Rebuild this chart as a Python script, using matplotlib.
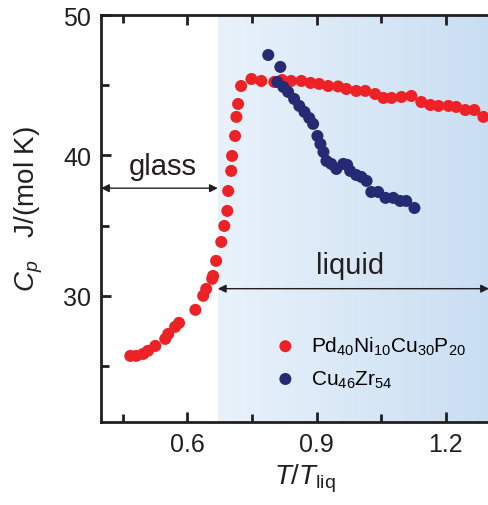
import numpy as np
import matplotlib
matplotlib.use("Agg")
import matplotlib.pyplot as plt
from matplotlib.colors import LinearSegmentedColormap

plt.rcParams['font.family'] = ['Liberation Sans', 'DejaVu Sans']
plt.rcParams['mathtext.fontset'] = 'custom'
plt.rcParams['mathtext.rm'] = 'Liberation Sans'
plt.rcParams['mathtext.it'] = 'Liberation Sans:italic'
plt.rcParams['mathtext.default'] = 'regular'

# Pd40Ni10Cu30P20
pd_x = [0.468, 0.482, 0.498, 0.509, 0.526, 0.549, 0.556, 0.572, 0.581, 0.619,
        0.637, 0.644, 0.658, 0.660, 0.667, 0.679, 0.686, 0.693, 0.695, 0.702,
        0.704, 0.711, 0.714, 0.718, 0.725, 0.749, 0.772, 0.802, 0.820, 0.841,
        0.865, 0.886, 0.906, 0.927, 0.950, 0.969, 0.992, 1.013, 1.036, 1.055,
        1.074, 1.097, 1.120, 1.143, 1.164, 1.183, 1.206, 1.224, 1.245, 1.266,
        1.287]
pd_y = [25.71, 25.71, 25.85, 26.07, 26.42, 26.92, 27.28, 27.78, 28.06, 28.99,
        29.99, 30.48, 31.20, 31.41, 32.48, 33.83, 34.97, 36.04, 37.46, 38.89,
        39.96, 41.38, 42.74, 43.66, 44.94, 45.44, 45.30, 45.23, 45.37, 45.30,
        45.30, 45.16, 45.09, 44.94, 44.91, 44.73, 44.59, 44.59, 44.37, 44.09,
        44.09, 44.16, 44.23, 43.80, 43.59, 43.52, 43.52, 43.45, 43.23, 43.23,
        42.74]

# Cu46Zr54
cz_x = [0.788, 0.816, 0.809, 0.823, 0.834, 0.848, 0.860, 0.872, 0.883, 0.892,
        0.902, 0.909, 0.916, 0.923, 0.934, 0.946, 0.962, 0.971, 0.978, 0.992,
        1.004, 1.016, 1.027, 1.043, 1.060, 1.078, 1.094, 1.108, 1.127]
cz_y = [47.15, 46.30, 45.23, 44.87, 44.52, 44.02, 43.52, 43.09, 42.66, 42.24,
        41.38, 40.81, 40.24, 39.60, 39.39, 39.03, 39.39, 39.32, 38.89, 38.60,
        38.46, 38.18, 37.39, 37.39, 36.97, 36.97, 36.75, 36.75, 36.25]

xticks = [0.6, 0.9, 1.2]
yticks = [30, 40, 50]
t_glass = 0.671
xmin, xmax, ymin, ymax = 0.4, 1.3, 21, 50

fig = plt.figure(figsize=(4.89, 5.06), dpi=100)
ax = fig.add_axes([101/489, 1-423/506, (489-101)/489, (423-16)/506])

cmap = LinearSegmentedColormap.from_list('bg', ['#e9f2fb', '#c9def2'])
grad = np.linspace(0, 1, 256).reshape(1, -1)
ax.imshow(grad, extent=[t_glass, xmax, ymin, ymax], aspect='auto', cmap=cmap,
          zorder=0, interpolation='bicubic')

ax.scatter(pd_x, pd_y, s=75, color='#ec2227', edgecolors='none', zorder=3,
           label=r'Pd$_{40}$Ni$_{10}$Cu$_{30}$P$_{20}$')
ax.scatter(cz_x, cz_y, s=75, color='#262a72', edgecolors='none', zorder=4,
           label=r'Cu$_{46}$Zr$_{54}$')

ax.set_xlim(xmin, xmax)
ax.set_ylim(ymin, ymax)

ax.annotate('', xy=(xmin, 37.66), xytext=(t_glass, 37.66),
            arrowprops=dict(arrowstyle='<|-|>', color='#231f20', lw=1.0,
                            mutation_scale=12, shrinkA=0, shrinkB=0))
ax.annotate('', xy=(t_glass, 30.5), xytext=(xmax, 30.5),
            arrowprops=dict(arrowstyle='<|-|>', color='#231f20', lw=1.0,
                            mutation_scale=12, shrinkA=0, shrinkB=0))
ax.text(0.544, 38.67, 'glass', fontsize=21, ha='center', va='baseline', color='#231f20')
ax.text(0.978, 31.62, 'liquid', fontsize=21, ha='center', va='baseline', color='#231f20')

leg = ax.legend(loc='upper left', bbox_to_anchor=(0.40, 0.235), frameon=False,
                fontsize=15, handletextpad=0.25, labelspacing=0.55,
                markerscale=1.0, borderaxespad=0)

ax.set_xticks(xticks)
ax.set_yticks(yticks)
ax.set_xticks([0.45, 0.75, 1.05], minor=True)
ax.set_yticks([25, 35, 45], minor=True)
ax.tick_params(which='both', direction='in', top=True, right=False, width=2,
               color='#231f20', labelsize=18, labelcolor='#231f20', pad=7)
ax.tick_params(which='major', length=7)
ax.tick_params(which='minor', length=6)
for s in ['left', 'bottom', 'top']:
    ax.spines[s].set_linewidth(2)
    ax.spines[s].set_color('#231f20')
ax.spines['right'].set_visible(False)

ax.set_xlabel(r'$\mathit{T/T}_{\rm liq}$', fontsize=20, color='#231f20')
ax.set_ylabel(r'$\mathit{C}_{\mathit{p}}$   J/(mol K)', fontsize=20, color='#231f20')
ax.xaxis.set_label_coords(0.526, -0.098)
ax.yaxis.set_label_coords(-0.145, 0.526)

fig.savefig('out.png', dpi=100)
